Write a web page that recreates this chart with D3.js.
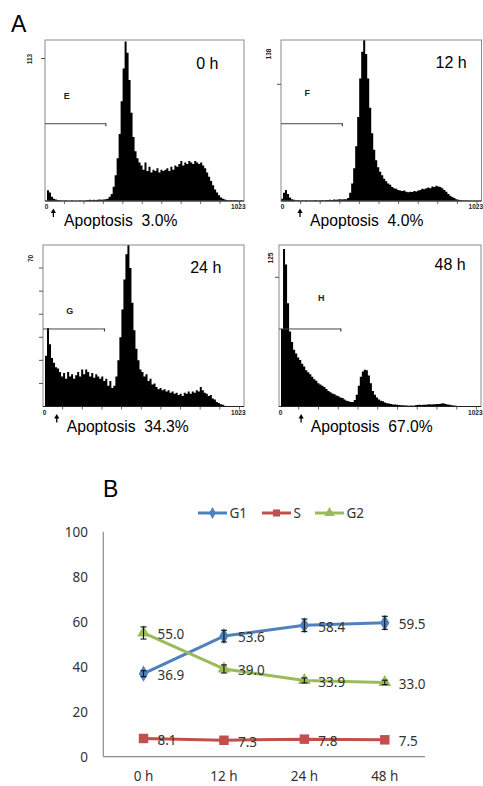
<!DOCTYPE html>
<html><head><meta charset="utf-8">
<script src="https://cdn.jsdelivr.net/npm/d3@7"></script>
<style>html,body{margin:0;padding:0;background:#fff;} svg{display:block;}</style>
</head><body>
<svg id="fig" width="483" height="786"></svg>
<script>
// ---------------- DATA ----------------
// Panel A: DNA histograms (100 bins over channels 0..1023, counts)
const hist0h = [0,7.5,6,3,1.5,1,0.5,0.3,0.3,0,0.5,0,0,0.3,0,0,0,0.3,0,0,0.3,0.5,0.8,0.5,0.8,0.5,0.8,1,0.8,1,1.2,1.5,
  3,5,10,18,30,47,70,93,112,104,85,62,45,35,30,27,25,22,27,21,24,20,22,21,23,20,22,21,22,23,21,24,22,25,24,26,28,25,27,26,28,27,26,28,27,26,27,25,
  23,20,17,14,11,8,6,4,2.5,1.5,1,0.5,0.3,0.5,0.3,0.5,0.3,0,0.3,0];
const hist12h = [2,7,9.5,6,3,1.5,1,0.5,0.6,0.3,0.5,0.3,0.6,0.3,0.5,0.2,0.4,0.6,0.3,0.5,0.6,0.5,0.8,0.6,1,0.8,1.2,1,1.3,1.5,1.2,1.5,1.6,
  2.5,7,15,28,47,72,105,128,138,126,105,80,58,44,35,29,25,22,19,17,15,14,12,11,10.5,9.5,9,8.5,9,8,7.5,8,7.8,8.5,8.2,9,9.5,10.5,10,11,11.5,11,12.5,12,13,12.5,12,
  11,9.5,8,6,4.5,3.5,2.5,1.5,1,0.6,0.4,0.2,0.4,0.2,0.3,0,0.3,0.2,0,0.2];
const hist24h = [0,22,34,27,21,19,17,16.5,15,13,14.5,12,15,13,14,12,13.5,15,13,16,14,16,15,13,14.5,12.5,14,13,12,13,11,12,9,11,8,9,
  13,20,30,42,55,66,70,60,45,33,25,20,16,15,13,14,11,12,9.5,10,8.5,7.5,8,7,7.5,6.5,7,6,6.5,5.5,6,5,5.5,4.5,6,5.5,6.5,5.5,6.5,6,7,6.5,8.5,7,
  6,5.5,4.5,5,3.5,3,2,1.5,1,0.8,0.3,0,0,0,0,0,0,0,0,0];
const hist48h = [0,60,122,110,80,58,50,44,41,38,36,33,31,28,26.5,25,23,21,20,18,17,16,15,13.5,12,11,10,9.5,8.5,8,7,6.5,5.5,4.5,4,3.5,3.5,
  5,9,16,23,27,28.5,28,24,18,12,9,7,5.5,4.5,4,3,2.5,2.3,2,1.6,1.5,1.3,1.2,1,0.9,0.8,0.7,0.6,0.8,0.6,0.9,1.1,1.3,1.2,1.4,1.3,1.5,1.7,1.6,1.8,1.7,2,1.9,
  2.3,2.5,2,1.6,1.3,1,0.8,0.5,0.3,0.2,0,0.2,0,0,0,0,0,0,0,0];
const histTimeLabels = ["0 h", "12 h", "24 h", "48 h"];
const histYMax = [113, 138, 70, 125];
const histYTicks = [[100], [100], [10, 20, 30, 40, 50, 60], [100]];
const gateLetters = ["E", "F", "G", "H"];
const gateEndChannel = 313;
const apoptosisPct = ["3.0%", "4.0%", "34.3%", "67.0%"];
const channelTicks = [100, 200, 300, 400, 500, 600, 700, 800, 900, 1000];
const channelTickLabels = ["0", "1023"];

// Panel B: cell-cycle fractions
const timepoints = ["0 h", "12 h", "24 h", "48 h"];
const g1Values = [36.9, 53.6, 58.4, 59.5];
const g1Errors = [1.3, 2.6, 2.8, 2.9];
const sValues = [8.1, 7.3, 7.8, 7.5];
const sErrors = [0.5, 0.5, 0.5, 0.5];
const g2Values = [55.0, 39.0, 33.9, 33.0];
const g2Errors = [2.7, 1.8, 1.1, 1.0];
const seriesNames = ["G1", "S", "G2"];
const yTicksB = [0, 20, 40, 60, 80, 100];

// ---------------- LAYOUT ----------------
const svg = d3.select("#fig");
const fontA = "'Liberation Sans', Arial, sans-serif";
const fontB = "'Noto Sans', 'DejaVu Sans', sans-serif";

const panelLayout = [
  {x0:45,  x1:244,   y0:40,  y1:201,   timeX:218.5, timeY:69.3,  gateX:66.7,  gateY:96,    maxX:29,    maxY:59,    arrowCh:43,  apopX:64,    apopY:226},
  {x0:281, x1:481.5, y0:40,  y1:201,   timeX:466.7, timeY:68.3,  gateX:307.3, gateY:93.3,  maxX:268.5, maxY:54,    arrowCh:97,  apopX:310,   apopY:226},
  {x0:43,  x1:244,   y0:245, y1:406.5, timeX:221.3, timeY:273.3, gateX:69.7,  gateY:311,   maxX:30,    maxY:258.5, arrowCh:70,  apopX:66.7,  apopY:431.7},
  {x0:279, x1:481,   y0:245, y1:406.5, timeX:465.7, timeY:270.3, gateX:321.3, gateY:298.3, maxX:270,   maxY:258,   arrowCh:112, apopX:310.7, apopY:431.7}
];
const histograms = [hist0h, hist12h, hist24h, hist48h];
const gateFrac = 0.48;

svg.append("text").attr("x", 11).attr("y", 31.5).attr("font-family", fontA)
  .attr("font-size", 23).attr("fill", "#000").text("A");
svg.append("text").attr("x", 103).attr("y", 497).attr("font-family", fontA)
  .attr("font-size", 23).attr("fill", "#000").text("B");

const defs = svg.append("defs");

histograms.forEach((data, k) => {
  const L = panelLayout[k];
  const xs = d3.scaleLinear().domain([0, 1023]).range([L.x0, L.x1]);
  const ys = d3.scaleLinear().domain([0, histYMax[k]]).range([L.y1, L.y0]);
  const binW = 1023 / data.length;
  const g = svg.append("g");

  defs.append("clipPath").attr("id", "clip" + k).append("rect")
    .attr("x", L.x0).attr("y", L.y0).attr("width", L.x1 - L.x0).attr("height", L.y1 - L.y0);

  const area = d3.area()
    .x((d, i) => xs(Math.min(1023, i * binW)))
    .y0(ys(0)).y1(d => ys(d))
    .curve(d3.curveStepAfter);
  g.append("path").datum(data.concat([0]))
    .attr("d", area).attr("fill", "#000").attr("clip-path", "url(#clip" + k + ")");

  // frame
  g.append("rect").attr("x", L.x0).attr("y", L.y0).attr("width", L.x1 - L.x0).attr("height", L.y1 - L.y0)
    .attr("fill", "none").attr("stroke", "#8a8a8a").attr("stroke-width", 1);
  g.append("line").attr("x1", L.x0).attr("x2", L.x1).attr("y1", L.y1).attr("y2", L.y1)
    .attr("stroke", "#222").attr("stroke-width", 1.2);

  // y ticks
  g.selectAll(".yt").data(histYTicks[k]).enter().append("line")
    .attr("x1", L.x0 - 4).attr("x2", L.x0).attr("y1", d => ys(d)).attr("y2", d => ys(d))
    .attr("stroke", "#555").attr("stroke-width", 1);
  g.append("text").attr("transform", `translate(${L.maxX},${L.maxY}) rotate(-90)`)
    .attr("text-anchor", "middle").attr("dominant-baseline", "central")
    .attr("font-family", fontA).attr("font-size", 6.5).attr("font-weight", "bold").attr("fill", "#222")
    .text(histYMax[k]);

  // x ticks
  g.selectAll(".xt").data(channelTicks).enter().append("line")
    .attr("x1", d => xs(d)).attr("x2", d => xs(d)).attr("y1", L.y1).attr("y2", L.y1 + 3)
    .attr("stroke", "#444").attr("stroke-width", 0.8);
  g.append("text").attr("x", xs(0) + 1.5).attr("y", L.y1 + 8.3).attr("text-anchor", "middle")
    .attr("font-family", fontA).attr("font-size", 6.5).attr("font-weight", "bold").attr("fill", "#222")
    .text(channelTickLabels[0]);
  g.append("text").attr("x", xs(1023) + 1.5).attr("y", L.y1 + 8.3).attr("text-anchor", "end")
    .attr("font-family", fontA).attr("font-size", 6.5).attr("font-weight", "bold").attr("fill", "#222")
    .text(channelTickLabels[1]);

  // gate marker
  const gy = L.y1 - gateFrac * (L.y1 - L.y0);
  g.append("line").attr("x1", xs(0)).attr("x2", xs(gateEndChannel)).attr("y1", gy).attr("y2", gy)
    .attr("stroke", "#444").attr("stroke-width", 1);
  g.append("line").attr("x1", xs(gateEndChannel)).attr("x2", xs(gateEndChannel)).attr("y1", gy - 0.5).attr("y2", gy + 2.5)
    .attr("stroke", "#444").attr("stroke-width", 1.2);
  g.append("text").attr("x", L.gateX).attr("y", L.gateY).attr("text-anchor", "middle").attr("dominant-baseline", "central")
    .attr("font-family", fontA).attr("font-size", 9).attr("font-weight", "bold").attr("fill", "#222")
    .text(gateLetters[k]);

  // time label
  g.append("text").attr("x", L.timeX).attr("y", L.timeY).attr("text-anchor", "end")
    .attr("font-family", fontA).attr("font-size", 16).attr("fill", "#000").text(histTimeLabels[k]);

  // arrow
  const ax = xs(L.arrowCh);
  g.append("line").attr("x1", ax).attr("x2", ax).attr("y1", L.y1 + 10).attr("y2", L.y1 + 16)
    .attr("stroke", "#000").attr("stroke-width", 1.3);
  g.append("path").attr("d", `M${ax - 2.6},${L.y1 + 12} L${ax},${L.y1 + 7.5} L${ax + 2.6},${L.y1 + 12} Z`).attr("fill", "#000");

  // apoptosis text
  g.append("text").attr("x", L.apopX).attr("y", L.apopY).attr("font-family", fontA)
    .attr("font-size", 15.7).attr("fill", "#000")
    .style("white-space", "pre")
    .text("Apoptosis  " + apoptosisPct[k]);
});

// ---------------- PANEL B ----------------
const yB = d3.scaleLinear().domain([0, 100]).range([756.7, 531.7]);
const xB = d3.scalePoint().domain(timepoints).range([103.3, 425]).padding(0.5);
const gB = svg.append("g");

gB.append("line").attr("x1", 103.3).attr("x2", 103.3).attr("y1", yB(100)).attr("y2", yB(0))
  .attr("stroke", "#8c8c8c").attr("stroke-width", 1.2);
gB.append("line").attr("x1", 103.3).attr("x2", 425).attr("y1", yB(0)).attr("y2", yB(0))
  .attr("stroke", "#8c8c8c").attr("stroke-width", 1.2);

gB.selectAll(".ytl").data(yTicksB).enter().append("text")
  .attr("x", 88).attr("y", d => yB(d)).attr("dy", "0.36em").attr("text-anchor", "end")
  .attr("font-family", fontB).attr("font-size", 13.5).attr("fill", "#333").text(d => d);
gB.selectAll(".xtl").data(timepoints).enter().append("text")
  .attr("x", d => xB(d)).attr("y", 781).attr("text-anchor", "middle")
  .attr("font-family", fontB).attr("font-size", 13.5).attr("fill", "#333").text(d => d);

const series = [
  {name: seriesNames[0], values: g1Values, errors: g1Errors, color: "#4F81BD", marker: d3.symbolDiamond, size: 75, legSize: 40},
  {name: seriesNames[1], values: sValues, errors: sErrors, color: "#C0504D", marker: d3.symbolSquare, size: 90, legSize: 50},
  {name: seriesNames[2], values: g2Values, errors: g2Errors, color: "#9BBB59", marker: d3.symbolTriangle, size: 70, legSize: 45}
];

const line = d3.line().x((d, i) => xB(timepoints[i])).y(d => yB(d));
series.forEach(s => {
  gB.append("path").datum(s.values).attr("d", line).attr("fill", "none")
    .attr("stroke", s.color).attr("stroke-width", 3).attr("stroke-linejoin", "round");
});
series.forEach(s => {
  gB.selectAll(null).data(s.values).enter().append("path")
    .attr("transform", (d, i) => `translate(${xB(timepoints[i])},${yB(d)})`)
    .attr("d", d3.symbol().type(s.marker).size(s.size)).attr("fill", s.color);
});
series.forEach(s => {
  if (s.name === "S") return;
  s.values.forEach((v, i) => {
    const cx = xB(timepoints[i]);
    const top = yB(v + s.errors[i]), bot = yB(v - s.errors[i]);
    gB.append("line").attr("x1", cx).attr("x2", cx).attr("y1", top).attr("y2", bot).attr("stroke", "#111").attr("stroke-width", 1.1);
    gB.append("line").attr("x1", cx - 3).attr("x2", cx + 3).attr("y1", top).attr("y2", top).attr("stroke", "#111").attr("stroke-width", 1.1);
    gB.append("line").attr("x1", cx - 3).attr("x2", cx + 3).attr("y1", bot).attr("y2", bot).attr("stroke", "#111").attr("stroke-width", 1.1);
  });
});
series.forEach(s => {
  gB.selectAll(null).data(s.values).enter().append("text")
    .attr("x", (d, i) => xB(timepoints[i]) + 14).attr("y", d => yB(d) + 1.5).attr("dy", "0.36em")
    .attr("font-family", fontB).attr("font-size", 13.5).attr("fill", "#333")
    .text(d => d.toFixed(1));
});

// legend
const legendX = [198, 262, 315];
series.forEach((s, i) => {
  const lg = gB.append("g").attr("transform", `translate(${legendX[i]},513)`);
  lg.append("line").attr("x1", 0).attr("x2", 29).attr("y1", 0).attr("y2", 0).attr("stroke", s.color).attr("stroke-width", 3);
  lg.append("path").attr("transform", "translate(14.5,0)").attr("d", d3.symbol().type(s.marker).size(s.legSize)).attr("fill", s.color);
  lg.append("text").attr("x", 31.5).attr("y", 0).attr("dy", "0.36em").attr("font-family", fontB)
    .attr("font-size", 13.5).attr("fill", "#333").text(s.name);
});
</script>
</body></html>
